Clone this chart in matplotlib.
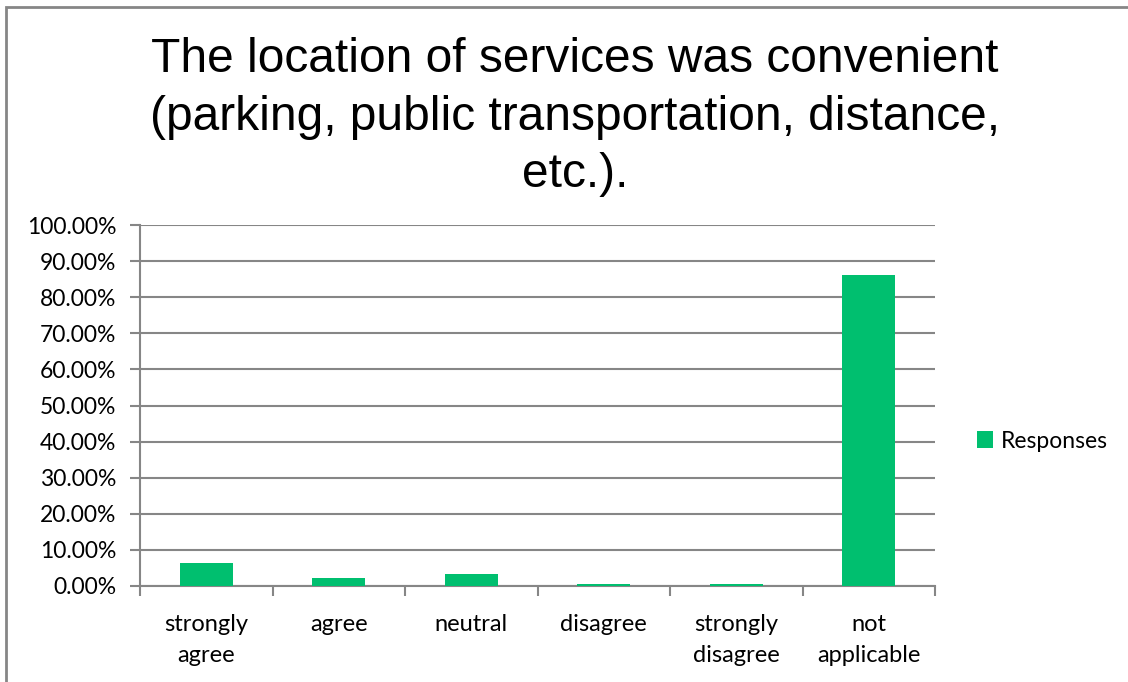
import matplotlib.pyplot as plt
from matplotlib.patches import Rectangle
from matplotlib.ticker import FuncFormatter, FixedLocator, NullFormatter

categories = ['strongly\nagree', 'agree', 'neutral', 'disagree', 'strongly\ndisagree', 'not\napplicable']
responses = [6.4, 2.2, 3.3, 0.5, 0.5, 86.2]
y_ticks = list(range(0, 101, 10))

title = 'The location of services was convenient\n(parking, public transportation, distance,\netc.).'
bar_color = '#00BF6F'
grid_color = '#868686'

fig = plt.figure(figsize=(11.28, 6.82), dpi=100)
ax = fig.add_axes([140 / 1128, 1 - 586 / 682, 795 / 1128, 361 / 682])

x = list(range(len(categories)))
bars = ax.bar(x, responses, width=0.4, color=bar_color, label='Responses', zorder=3)

ax.set_xlim(-0.5, len(categories) - 0.5)
ax.set_ylim(0, 100)
ax.set_yticks(y_ticks)
ax.yaxis.set_major_formatter(FuncFormatter(lambda v, p: f'{v:.2f}%'))
ax.grid(axis='y', color=grid_color, linewidth=1.5, zorder=0)

# category boundaries carry the ticks, labels sit in between
ax.xaxis.set_major_locator(FixedLocator([i - 0.5 for i in range(len(categories) + 1)]))
ax.xaxis.set_major_formatter(NullFormatter())
ax.xaxis.set_minor_locator(FixedLocator(x))
ax.set_xticklabels(categories, minor=True)
ax.tick_params(axis='x', which='minor', length=0, pad=20, labelsize=17)
ax.tick_params(axis='x', which='major', length=7, width=1.5, color=grid_color, direction='out')
ax.tick_params(axis='y', length=7, width=1.5, color=grid_color, direction='out', pad=10, labelsize=16.5)
for lbl in ax.get_xticklabels(minor=True) + ax.get_yticklabels():
    lbl.set_family('Lato')
    lbl.set_linespacing(1.6)

for side in ['top', 'right']:
    ax.spines[side].set_visible(False)
for side in ['left', 'bottom']:
    ax.spines[side].set_color(grid_color)
    ax.spines[side].set_linewidth(1.5)

fig.text(575 / 1128, 1 - 117 / 682, title, ha='center', va='center', fontsize=34.5,
         family='Liberation Sans', linespacing=1.36)

fig.legend(handles=[bars], labels=['Responses'], loc='center left',
           bbox_to_anchor=(956 / 1128, 1 - 441 / 682), frameon=False,
           handlelength=0.7, handleheight=0.7, handletextpad=0.35,
           prop={'family': 'Lato', 'size': 16.5})

# outer chart border
fig.patches.append(Rectangle((5.5 / 1128, -0.1), 2, 1 - 6.5 / 682 + 0.1, transform=fig.transFigure,
                             fill=False, edgecolor=grid_color, linewidth=2))

fig.savefig('out.png', dpi=100)
